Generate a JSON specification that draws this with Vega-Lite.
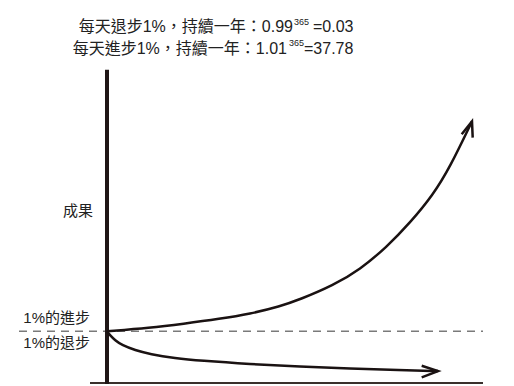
{
  "$schema": "https://vega.github.io/schema/vega-lite/v6.json",
  "width": 514,
  "height": 386,
  "padding": 0,
  "autosize": {"type": "fit", "contains": "padding"},
  "background": "white",
  "config": {"view": {"stroke": null}},
  "datasets": {
    "up": [
      {"day": 0, "value": 0}, {"day": 43, "value": 3.5}, {"day": 76, "value": 7.5},
      {"day": 113, "value": 12.5}, {"day": 143, "value": 17.5}, {"day": 173, "value": 25},
      {"day": 193, "value": 32}, {"day": 226, "value": 46}, {"day": 253, "value": 62},
      {"day": 280, "value": 85}, {"day": 303, "value": 109}, {"day": 326, "value": 137},
      {"day": 343, "value": 165}, {"day": 365, "value": 211}
    ],
    "down": [
      {"day": 0, "value": 0}, {"day": 3, "value": -4}, {"day": 8, "value": -9},
      {"day": 15, "value": -14}, {"day": 28, "value": -19}, {"day": 43, "value": -23},
      {"day": 68, "value": -27}, {"day": 93, "value": -29.5}, {"day": 143, "value": -33},
      {"day": 193, "value": -35.5}, {"day": 243, "value": -37.5}, {"day": 293, "value": -39},
      {"day": 331, "value": -40}
    ],
    "heads": [
      {"arrow": "up", "o": 1, "day": 354.7, "value": 198},
      {"arrow": "up", "o": 2, "day": 365, "value": 211},
      {"arrow": "up", "o": 3, "day": 365.7, "value": 194.7},
      {"arrow": "down", "o": 1, "day": 314.7, "value": -34.7},
      {"arrow": "down", "o": 2, "day": 331, "value": -40},
      {"arrow": "down", "o": 3, "day": 314.7, "value": -46.3}
    ],
    "dash": [{"day": -88, "value": 0}, {"day": 376, "value": 0}],
    "mainText": [
      {"t": "每天退步1%，持續一年：0.99", "day": 186, "value": 301},
      {"t": "每天進步1%，持續一年：1.01", "day": 180, "value": 279}
    ],
    "supText": [
      {"t": "365", "day": 187, "value": 308},
      {"t": "365", "day": 182, "value": 287}
    ],
    "resultText": [
      {"t": "=0.03", "day": 206, "value": 301},
      {"t": "=37.78", "day": 197, "value": 279}
    ],
    "labels": [
      {"t": "成果", "day": -14, "value": 121},
      {"t": "1%的進步", "day": -17, "value": 13},
      {"t": "1%的退步", "day": -17, "value": -12}
    ]
  },
  "layer": [
    {
      "data": {"name": "dash"},
      "mark": {"type": "line", "color": "#7a7a7a", "strokeWidth": 1.5, "strokeDash": [8, 6]},
      "encoding": {
        "x": {"field": "day", "type": "quantitative", "scale": {"domain": [-107, 407], "nice": false, "zero": false}, "axis": null},
        "y": {"field": "value", "type": "quantitative", "scale": {"domain": [-53, 333], "nice": false, "zero": false}, "axis": null}
      }
    },
    {
      "data": {"values": [{"a": -17, "b": 376, "v": -52}]},
      "mark": {"type": "rule", "color": "#3a302c", "strokeWidth": 2},
      "encoding": {
        "x": {"field": "a", "type": "quantitative"},
        "x2": {"field": "b"},
        "y": {"field": "v", "type": "quantitative"}
      }
    },
    {
      "data": {"values": [{"d": 0, "v1": 263, "v2": -53}]},
      "mark": {"type": "rule", "color": "#1f1616", "strokeWidth": 4},
      "encoding": {
        "x": {"field": "d", "type": "quantitative"},
        "y": {"field": "v1", "type": "quantitative"},
        "y2": {"field": "v2"}
      }
    },
    {
      "data": {"name": "up"},
      "mark": {"type": "line", "color": "#1a1212", "strokeWidth": 2.5, "interpolate": "basis"},
      "encoding": {
        "x": {"field": "day", "type": "quantitative"},
        "y": {"field": "value", "type": "quantitative"}
      }
    },
    {
      "data": {"name": "down"},
      "mark": {"type": "line", "color": "#1a1212", "strokeWidth": 2.5, "interpolate": "basis"},
      "encoding": {
        "x": {"field": "day", "type": "quantitative"},
        "y": {"field": "value", "type": "quantitative"}
      }
    },
    {
      "data": {"name": "heads"},
      "mark": {"type": "line", "color": "#1a1212", "strokeWidth": 2.5, "strokeJoin": "miter"},
      "encoding": {
        "x": {"field": "day", "type": "quantitative"},
        "y": {"field": "value", "type": "quantitative"},
        "detail": {"field": "arrow"},
        "order": {"field": "o"}
      }
    },
    {
      "data": {"name": "mainText"},
      "mark": {"type": "text", "baseline": "alphabetic", "align": "right", "fontSize": 16, "color": "#222222", "font": "Liberation Sans, Noto Sans CJK TC"},
      "encoding": {
        "x": {"field": "day", "type": "quantitative"},
        "y": {"field": "value", "type": "quantitative"},
        "text": {"field": "t"}
      }
    },
    {
      "data": {"name": "supText"},
      "mark": {"type": "text", "baseline": "alphabetic", "align": "left", "fontSize": 9, "color": "#222222", "font": "Liberation Sans, Noto Sans CJK TC"},
      "encoding": {
        "x": {"field": "day", "type": "quantitative"},
        "y": {"field": "value", "type": "quantitative"},
        "text": {"field": "t"}
      }
    },
    {
      "data": {"name": "resultText"},
      "mark": {"type": "text", "baseline": "alphabetic", "align": "left", "fontSize": 16, "color": "#222222", "font": "Liberation Sans, Noto Sans CJK TC"},
      "encoding": {
        "x": {"field": "day", "type": "quantitative"},
        "y": {"field": "value", "type": "quantitative"},
        "text": {"field": "t"}
      }
    },
    {
      "data": {"name": "labels"},
      "mark": {"type": "text", "baseline": "middle", "align": "right", "fontSize": 15, "color": "#222222", "font": "Liberation Sans, Noto Sans CJK TC"},
      "encoding": {
        "x": {"field": "day", "type": "quantitative"},
        "y": {"field": "value", "type": "quantitative"},
        "text": {"field": "t"}
      }
    }
  ]
}
